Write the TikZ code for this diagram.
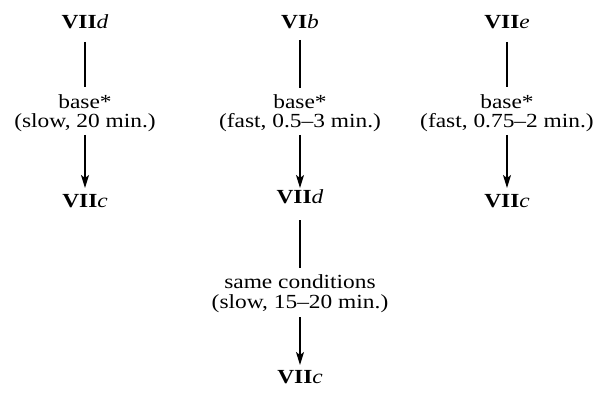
\documentclass[tikz,border=0pt]{standalone}
\usepackage{fontspec}
\setmainfont{Liberation Serif}[FakeStretch=1.17]
\usetikzlibrary{arrows.meta}
% compound label: bold roman numeral, italic letter
\newcommand\cpd[2]{\textbf{#1}\textit{#2}}
\begin{document}
\begin{tikzpicture}[x=1pt,y=-1pt,
  every node/.style={font=\fontsize{20}{20}\selectfont, inner sep=0pt, outer sep=0pt, anchor=base},
  link/.style={line width=1.5pt},
  yields/.style={line width=1.5pt, -{Stealth[length=13pt,width=8pt,inset=3pt]}}]
\useasboundingbox (0,0) rectangle (610,393);

% left column
\node (ld)  at (85,29)  {\cpd{VII}{d}};
\node (lb)  at (85,109) {base*};
\node (lt)  at (85,128) {(slow, 20 min.)};
\node (lc)  at (85,207) {\cpd{VII}{c}};
\draw[link]   ([yshift=-13pt]ld.base) -- ([yshift=22pt]lb.base);
\draw[yields] ([yshift=-7pt]lt.base)  -- ([yshift=19pt]lc.base);

% middle column
\node (mb6) at (300,29)  {\cpd{VI}{b}};
\node (mb)  at (300,109) {base*};
\node (mt)  at (300,128) {(fast, 0.5–3 min.)};
\node (md)  at (300,203) {\cpd{VII}{d}};
\node (ms)  at (300,288) {same conditions};
\node (mu)  at (300,308) {(slow, 15–20 min.)};
\node (mc)  at (300,383) {\cpd{VII}{c}};
\draw[link]   ([yshift=-11pt]mb6.base) -- ([yshift=21pt]mb.base);
\draw[yields] ([yshift=-7pt]mt.base)   -- ([yshift=15pt]md.base);
\draw[link]   ([yshift=-17pt]md.base)  -- ([yshift=20pt]ms.base);
\draw[yields] ([yshift=-9pt]mu.base)   -- ([yshift=18pt]mc.base);

% right column
\node (re)  at (507,29)  {\cpd{VII}{e}};
\node (rb)  at (507,109) {base*};
\node (rt)  at (507,128) {(fast, 0.75–2 min.)};
\node (rc)  at (507,207) {\cpd{VII}{c}};
\draw[link]   ([yshift=-13pt]re.base) -- ([yshift=22pt]rb.base);
\draw[yields] ([yshift=-7pt]rt.base)  -- ([yshift=19pt]rc.base);
\end{tikzpicture}
\end{document}
